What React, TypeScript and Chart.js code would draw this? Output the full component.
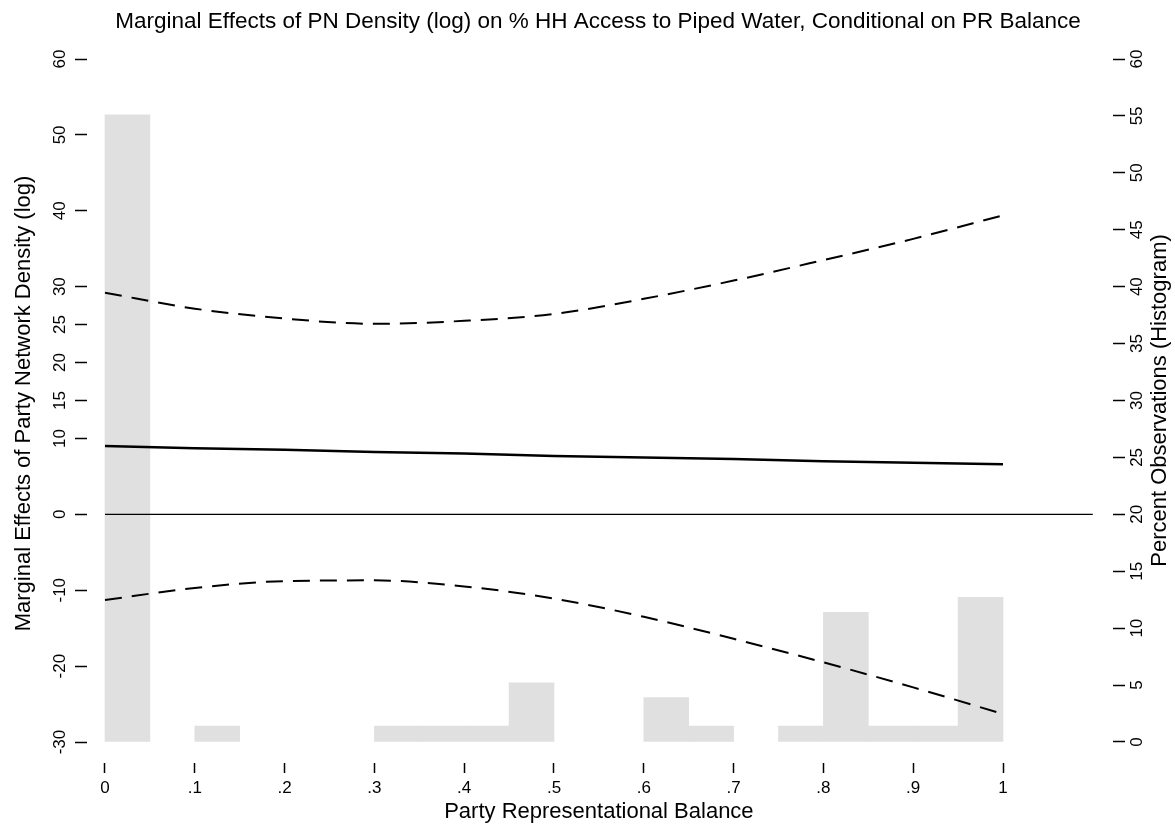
import React, { useEffect, useRef } from "react";
import { Chart, registerables } from "chart.js";

Chart.register(...registerables);

// ---------- text ----------
const TITLE =
  "Marginal Effects of PN Density (log) on % HH Access to Piped Water, Conditional on PR Balance";
const X_TITLE = "Party Representational Balance";
const Y_TITLE = "Marginal Effects of Party Network Density (log)";
const Y2_TITLE = "Percent Observations (Histogram)";

// ---------- data ----------
const balanceGrid = [0, 0.1, 0.2, 0.3, 0.4, 0.5, 0.6, 0.7, 0.8, 0.9, 1];
const marginalEffect = [9.0, 8.7, 8.5, 8.2, 8.0, 7.7, 7.5, 7.3, 7.0, 6.8, 6.6];
const upperBound = [29.2, 27.1, 25.8, 25.1, 25.5, 26.4, 28.4, 30.8, 33.5, 36.3, 39.4];
const lowerBound = [-11.3, -9.7, -8.8, -8.7, -9.5, -11.1, -13.5, -16.4, -19.5, -22.8, -26.3];

const binCenters = [
  0.025, 0.075, 0.125, 0.175, 0.225, 0.275, 0.325, 0.375, 0.425, 0.475,
  0.525, 0.575, 0.625, 0.675, 0.725, 0.775, 0.825, 0.875, 0.925, 0.975,
];
const histPercent = [
  55.1, 0, 1.4, 0, 0, 0, 1.4, 1.4, 1.4, 5.2,
  0, 0, 3.9, 1.4, 0, 1.4, 11.4, 1.4, 1.4, 12.7,
];

const zeroLineX = [0, 1.1];
const zeroLineY = [0, 0];

// ---------- ticks ----------
const xTicks = [0, 0.1, 0.2, 0.3, 0.4, 0.5, 0.6, 0.7, 0.8, 0.9, 1];
const xTickLabels = ["0", ".1", ".2", ".3", ".4", ".5", ".6", ".7", ".8", ".9", "1"];
const yTicks = [-30, -20, -10, 0, 10, 15, 20, 25, 30, 40, 50, 60];
const y2Ticks = [0, 5, 10, 15, 20, 25, 30, 35, 40, 45, 50, 55, 60];

// ---------- axis ranges ----------
const X_MIN = -0.02004;
const X_MAX = 1.12249;
const Y_MIN = -32.767;
const Y_MAX = 60;
const Y2_MIN = -1.845;
const Y2_MAX = 60;

const FONT = "'Liberation Sans', Arial, Helvetica, sans-serif";

const textPlugin = {
  id: "stataText",
  afterDraw(chart: any) {
    const ctx = chart.ctx as CanvasRenderingContext2D;
    const area = chart.chartArea;
    const xs = chart.scales.x;
    const ys = chart.scales.y;
    const y2s = chart.scales.y2;
    ctx.save();
    ctx.fillStyle = "#000";
    ctx.textAlign = "center";
    ctx.textBaseline = "middle";

    // x tick labels
    ctx.font = `17px ${FONT}`;
    xs.ticks.forEach((t: any, i: number) => {
      ctx.fillText(xTickLabels[i], xs.getPixelForValue(t.value), area.bottom + 25);
    });

    // left y tick labels (rotated)
    ys.ticks.forEach((t: any) => {
      ctx.save();
      ctx.translate(area.left - 27, ys.getPixelForValue(t.value));
      ctx.rotate(-Math.PI / 2);
      ctx.fillText(String(t.value), 0, 0);
      ctx.restore();
    });

    // right y tick labels (rotated)
    y2s.ticks.forEach((t: any) => {
      ctx.save();
      ctx.translate(area.right + 24, y2s.getPixelForValue(t.value));
      ctx.rotate(-Math.PI / 2);
      ctx.fillText(String(t.value), 0, 0);
      ctx.restore();
    });

    // titles
    ctx.font = `22.5px ${FONT}`;
    ctx.fillText(TITLE, 598, 22);
    ctx.font = `22px ${FONT}`;
    const xMid = xs.getPixelForValue(0.55);
    ctx.fillText(X_TITLE, xMid, area.bottom + 49);

    const yMid = (ys.getPixelForValue(Y_MAX) + ys.getPixelForValue(-30)) / 2;
    ctx.save();
    ctx.translate(24, yMid + 3);
    ctx.rotate(-Math.PI / 2);
    ctx.fillText(Y_TITLE, 0, 0);
    ctx.restore();

    ctx.save();
    ctx.translate(1160, yMid);
    ctx.rotate(-Math.PI / 2);
    ctx.fillText(Y2_TITLE, 0, 0);
    ctx.restore();

    ctx.restore();
  },
};

export default function App() {
  const ref = useRef<HTMLCanvasElement>(null);

  useEffect(() => {
    if (!ref.current) return;
    const tickGrid = (len: number) => ({
      display: true,
      drawOnChartArea: false,
      drawTicks: true,
      tickLength: len,
      tickWidth: 1.5,
      tickColor: "#000",
      offset: false,
    });

    const histData = binCenters
      .map((c, i) => ({ x: c, y: histPercent[i] }))
      .filter((d) => d.y > 0);

    const chart = new Chart(ref.current, {
      type: "line",
      data: {
        datasets: [
          {
            type: "bar",
            label: "Histogram",
            data: histData,
            xAxisID: "x",
            yAxisID: "y2",
            backgroundColor: "#e0e0e0",
            borderWidth: 0,
            barPercentage: 1,
            categoryPercentage: 1,
            order: 10,
          } as any,
          {
            type: "line",
            label: "Zero",
            data: zeroLineX.map((x, i) => ({ x, y: zeroLineY[i] })),
            yAxisID: "y",
            borderColor: "#000",
            borderWidth: 1.3,
            pointRadius: 0,
            fill: false,
            order: 3,
          },
          {
            type: "line",
            label: "Upper",
            data: balanceGrid.map((x, i) => ({ x, y: upperBound[i] })),
            yAxisID: "y",
            borderColor: "#000",
            borderWidth: 2,
            borderDash: [17, 10],
            pointRadius: 0,
            cubicInterpolationMode: "monotone",
            fill: false,
            order: 2,
          },
          {
            type: "line",
            label: "Lower",
            data: balanceGrid.map((x, i) => ({ x, y: lowerBound[i] })),
            yAxisID: "y",
            borderColor: "#000",
            borderWidth: 2,
            borderDash: [17, 10],
            pointRadius: 0,
            cubicInterpolationMode: "monotone",
            fill: false,
            order: 2,
          },
          {
            type: "line",
            label: "Effect",
            data: balanceGrid.map((x, i) => ({ x, y: marginalEffect[i] })),
            yAxisID: "y",
            borderColor: "#000",
            borderWidth: 2.5,
            pointRadius: 0,
            fill: false,
            order: 1,
          },
        ],
      },
      options: {
        responsive: false,
        animation: false,
        devicePixelRatio: 1,
        layout: { padding: { top: 59, left: 0, right: 0, bottom: 0 } },
        plugins: {
          legend: { display: false },
          tooltip: { enabled: false },
          title: { display: false },
        },
        scales: {
          x: {
            type: "linear",
            min: X_MIN,
            max: X_MAX,
            offset: false,
            afterBuildTicks: (s: any) => {
              s.ticks = xTicks.map((v) => ({ value: v }));
            },
            afterFit: (s: any) => {
              s.height = 76;
            },
            ticks: { display: false },
            grid: tickGrid(10),
            border: { display: false },
          },
          y: {
            type: "linear",
            position: "left",
            min: Y_MIN,
            max: Y_MAX,
            afterBuildTicks: (s: any) => {
              s.ticks = yTicks.map((v) => ({ value: v }));
            },
            afterFit: (s: any) => {
              s.width = 87;
            },
            ticks: { display: false },
            grid: tickGrid(12),
            border: { display: false },
          },
          y2: {
            type: "linear",
            position: "right",
            min: Y2_MIN,
            max: Y2_MAX,
            afterBuildTicks: (s: any) => {
              s.ticks = y2Ticks.map((v) => ({ value: v }));
            },
            afterFit: (s: any) => {
              s.width = 62;
            },
            ticks: { display: false },
            grid: tickGrid(12),
            border: { display: false },
          },
        } as any,
      },
      plugins: [textPlugin],
    } as any);

    return () => chart.destroy();
  }, []);

  return (
    <div
      style={{
        position: "fixed",
        left: 0,
        top: 0,
        width: 1175,
        height: 839,
        background: "#fff",
      }}
    >
      <canvas
        ref={ref}
        width={1175}
        height={839}
        style={{ display: "block", width: 1175, height: 839 }}
      />
    </div>
  );
}
